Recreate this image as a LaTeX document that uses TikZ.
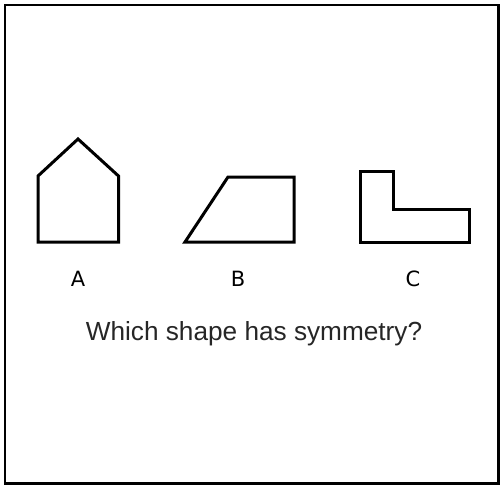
\documentclass[tikz,border=0pt]{standalone}
\usepackage{fontspec}
\setmainfont{Liberation Sans}
\newfontfamily\labelfont{DejaVu Sans}
\begin{document}
\begin{tikzpicture}[x=1pt,y=-1pt,
  shapeline/.style={line width=3pt,line join=miter,black},
  letter/.style={font=\labelfont\fontsize{21}{24}\selectfont,inner sep=0pt,anchor=base},
  question/.style={font=\fontsize{26.2}{30}\selectfont,inner sep=0pt,anchor=base,text=black!85}]
\useasboundingbox (0,0) rectangle (500,485);
\draw[line width=2.2pt] (5,5) rectangle (498.5,483.5);
% Shape A: house
\draw[shapeline] (38,242) -- (118.5,242) -- (118.5,176) -- (78,139) -- (38,176) -- cycle;
% Shape B: trapezoid
\draw[shapeline] (185,242) -- (294,242) -- (294,177) -- (228,177) -- cycle;
% Shape C: L-shape
\draw[shapeline] (360,242) -- (469,242) -- (469,209) -- (393,209) -- (393,171) -- (360,171) -- cycle;
\node[letter] (la) at (78,286.5) {A};
\node[letter] (lb) at (238,286.5) {B};
\node[letter] (lc) at (413,286.5) {C};
\node[question] (q) at (254,340) {Which shape has symmetry?};
\end{tikzpicture}
\end{document}
